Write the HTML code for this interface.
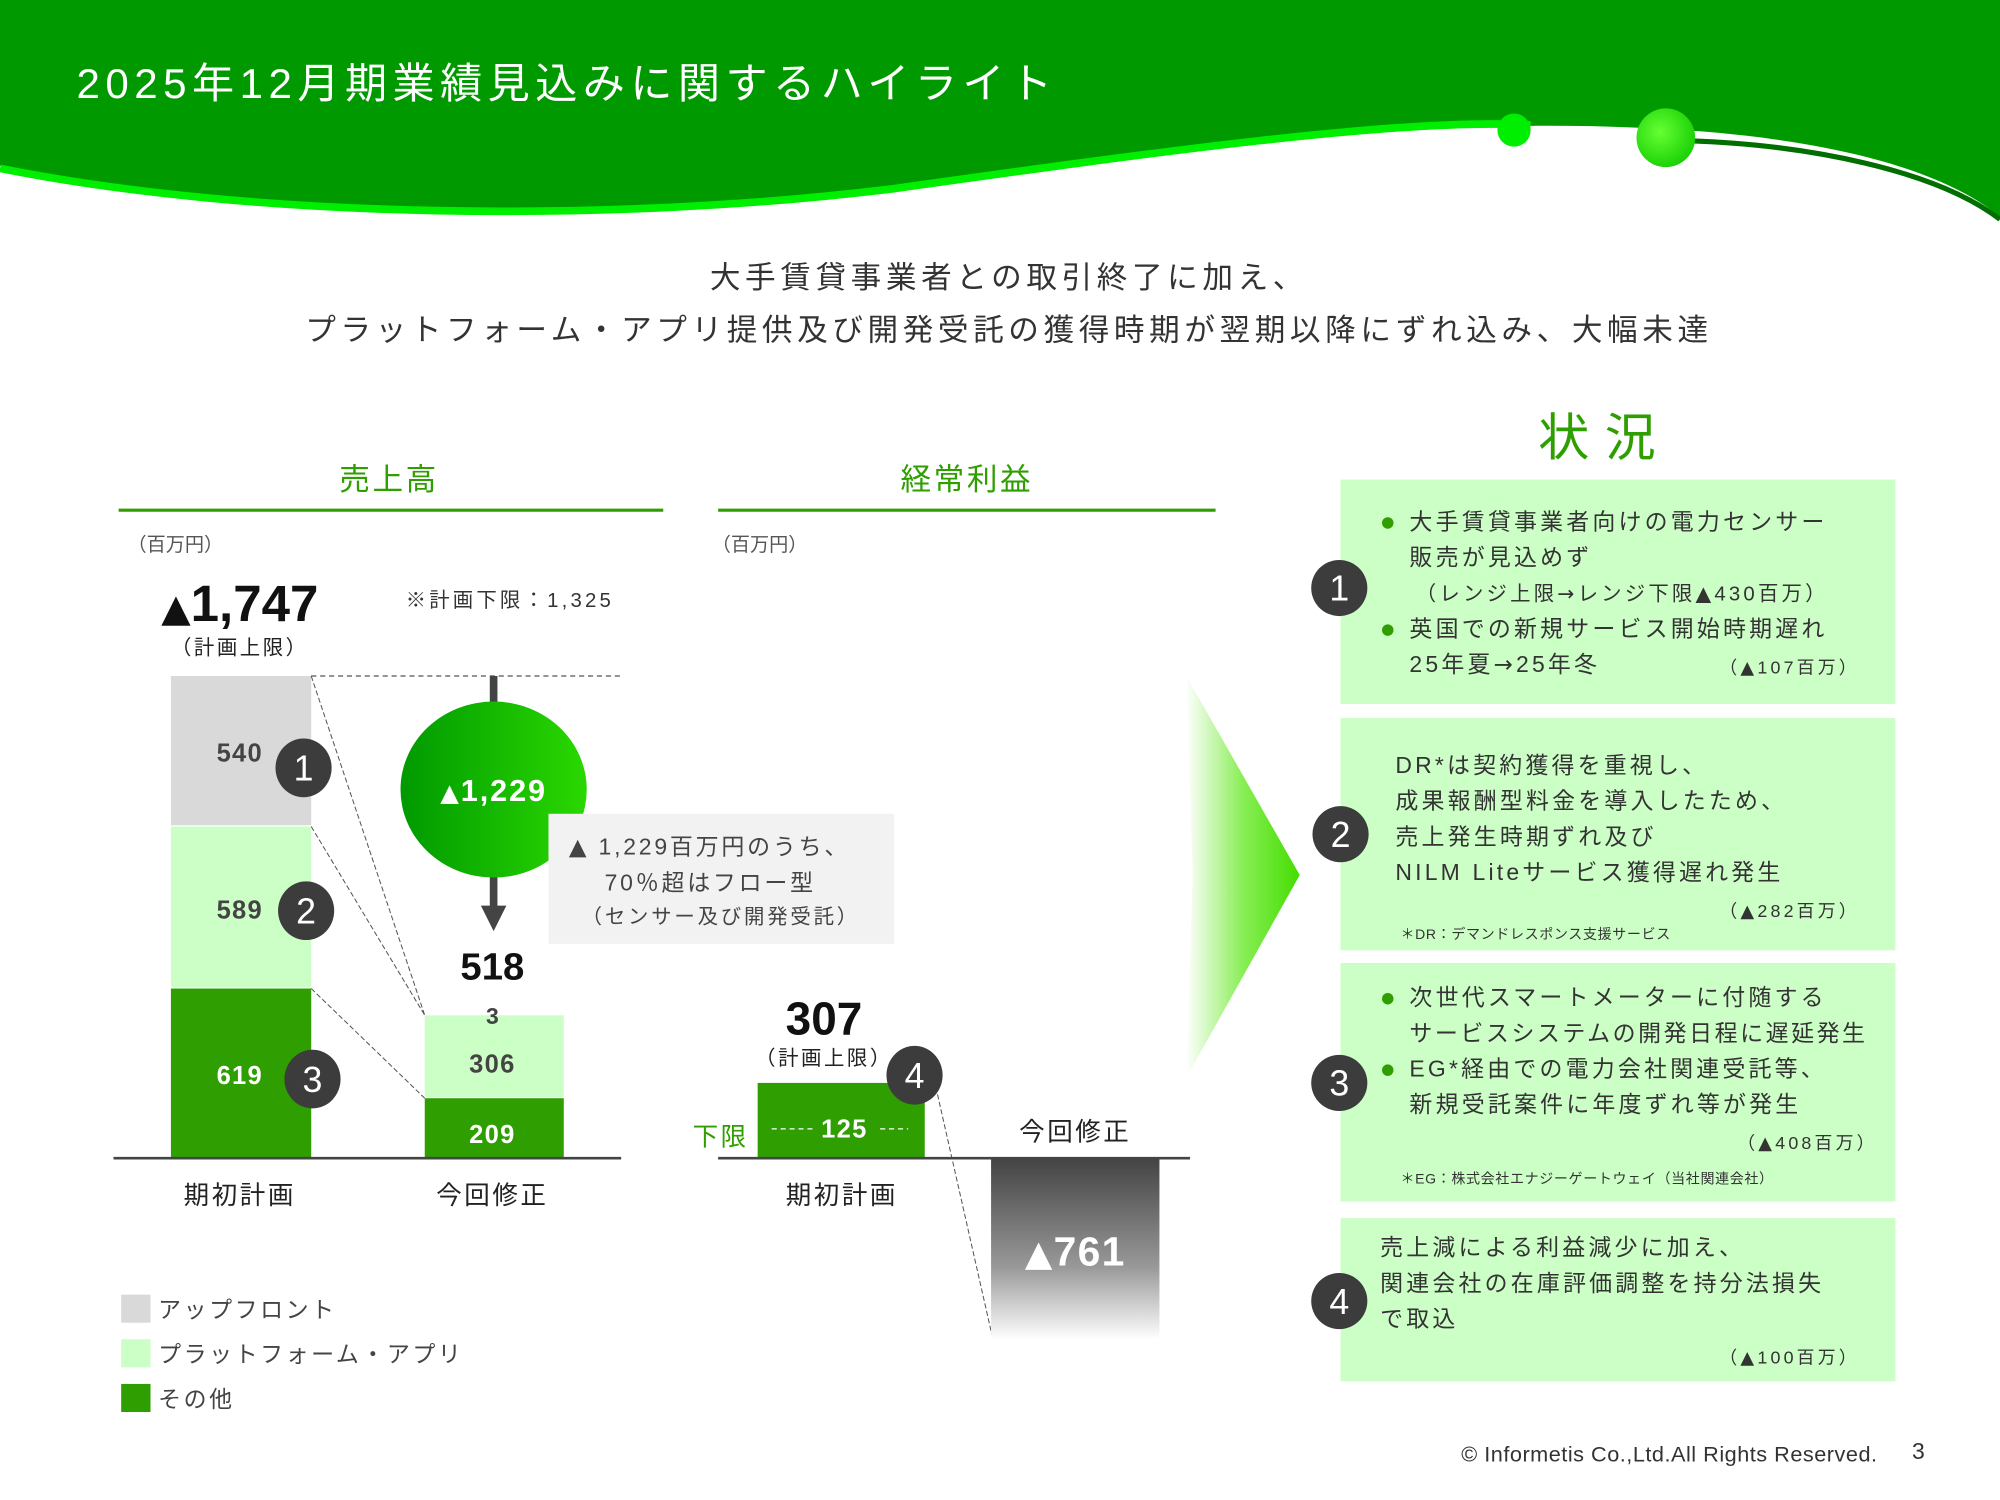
<!DOCTYPE html>
<html><head><meta charset="utf-8"><style>
html,body{margin:0;padding:0;background:#fff;}
svg{display:block;}
text{font-family:"Liberation Sans","Noto Sans CJK JP",sans-serif;}
</style></head><body>
<svg width="2000" height="1500" viewBox="0 0 1568 1176" xmlns="http://www.w3.org/2000/svg">
<defs>
<linearGradient id="cg" x1="0" y1="0" x2="1" y2="0"><stop offset="0" stop-color="#009900"/><stop offset="1" stop-color="#2ad800"/></linearGradient>
<linearGradient id="gg" x1="0" y1="0" x2="0" y2="1"><stop offset="0" stop-color="#444"/><stop offset="0.6" stop-color="#999"/><stop offset="1" stop-color="#fff"/></linearGradient>
<linearGradient id="chev" x1="0" y1="0" x2="1" y2="0"><stop offset="0" stop-color="#fff"/><stop offset="0.5" stop-color="#88ee55"/><stop offset="1" stop-color="#44dd00"/></linearGradient>
<radialGradient id="d1" cx="0.4" cy="0.4" r="0.7"><stop offset="0" stop-color="#66ff33"/><stop offset="1" stop-color="#11cc00"/></radialGradient>
</defs>
<path d="M0,0 H1568 V170 C1520,130 1420,105 1280,100 C1100,92 900,120 700,148 C480,175 200,172 0,130 Z" fill="#009900"/>
<path d="M0,132 C200,172 480,175 700,148 C900,120 1100,92 1200,98" fill="none" stroke="#00ee00" stroke-width="6"/>
<path d="M1310,110 C1420,112 1520,135 1568,172" fill="none" stroke="#006f00" stroke-width="4"/>
<circle cx="1187" cy="102" r="13" fill="#00ee00"/>
<circle cx="1306" cy="108" r="23" fill="url(#d1)"/>
<text x="60" y="77" font-size="33" fill="#fff" letter-spacing="4.3">2025年12月期業績見込みに関するハイライト</text>
<text x="791" y="226" font-size="24" fill="#333" text-anchor="middle" letter-spacing="3.6">大手賃貸事業者との取引終了に加え、</text>
<text x="791" y="267" font-size="24" fill="#333" text-anchor="middle" letter-spacing="3.6">プラットフォーム・アプリ提供及び開発受託の獲得時期が翌期以降にずれ込み、大幅未達</text>
<text x="305" y="384" font-size="24" fill="#2e9e00" text-anchor="middle" letter-spacing="2">売上高</text>
<line x1="93" y1="400" x2="520" y2="400" stroke="#2e9e00" stroke-width="2.5"/>
<text x="758" y="384" font-size="24" fill="#2e9e00" text-anchor="middle" letter-spacing="2">経常利益</text>
<line x1="563" y1="400" x2="953" y2="400" stroke="#2e9e00" stroke-width="2.5"/>
<text x="100" y="432" font-size="15" fill="#555">（百万円）</text>
<text x="558" y="432" font-size="15" fill="#555">（百万円）</text>
<text x="188" y="487" font-size="40" font-weight="bold" fill="#111" text-anchor="middle"><tspan font-family="DejaVu Sans" font-size="30">▲</tspan>1,747</text>
<text x="188" y="513" font-size="16" fill="#222" text-anchor="middle" letter-spacing="2">（計画上限）</text>
<text x="318" y="476" font-size="16" fill="#333" letter-spacing="2.5">※計画下限：1,325</text>
<rect x="134" y="530" width="110" height="117" fill="#d9d9d9"/>
<rect x="134" y="648" width="110" height="126" fill="#ccffc6"/>
<rect x="134" y="775" width="110" height="133" fill="#2e9e00"/>
<rect x="333" y="796" width="109" height="64" fill="#ccffc6"/>
<rect x="333" y="861" width="109" height="47" fill="#2e9e00"/>
<line x1="244" y1="530" x2="487" y2="530" stroke="#555" stroke-dasharray="4,3"/>
<line x1="244" y1="530" x2="333" y2="796" stroke="#555" stroke-width="0.8" stroke-dasharray="4,2"/>
<line x1="244" y1="648" x2="333" y2="796" stroke="#555" stroke-width="0.8" stroke-dasharray="4,2"/>
<line x1="244" y1="775" x2="333" y2="861" stroke="#555" stroke-width="0.8" stroke-dasharray="4,2"/>
<line x1="89" y1="908" x2="487" y2="908" stroke="#444" stroke-width="2"/>
<text x="188" y="597" font-size="20" font-weight="bold" fill="#444" text-anchor="middle" letter-spacing="1">540</text>
<text x="188" y="720" font-size="20" font-weight="bold" fill="#444" text-anchor="middle" letter-spacing="1">589</text>
<text x="188" y="850" font-size="20" font-weight="bold" fill="#fff" text-anchor="middle" letter-spacing="1">619</text>
<g font-size="28" fill="#fff" text-anchor="middle">
<ellipse cx="238" cy="602" rx="22" ry="23" fill="#3c3c3c"/><text x="238" y="612">1</text>
<ellipse cx="240" cy="714" rx="22" ry="23" fill="#3c3c3c"/><text x="240" y="724">2</text>
<ellipse cx="245" cy="846" rx="22" ry="23" fill="#3c3c3c"/><text x="245" y="856">3</text>
</g>
<text x="386" y="803" font-size="18" font-weight="bold" fill="#444" text-anchor="middle">3</text>
<text x="386" y="841" font-size="20" font-weight="bold" fill="#444" text-anchor="middle" letter-spacing="1">306</text>
<text x="386" y="896" font-size="20" font-weight="bold" fill="#fff" text-anchor="middle" letter-spacing="1">209</text>
<line x1="387" y1="530" x2="387" y2="712" stroke="#444" stroke-width="6"/>
<polygon points="377,710 397,710 387,730" fill="#444"/>
<ellipse cx="387" cy="619" rx="73" ry="69" fill="url(#cg)"/>
<text x="387" y="628" font-size="24" font-weight="bold" fill="#fff" text-anchor="middle" letter-spacing="1.5"><tspan font-family="DejaVu Sans" font-size="19">▲</tspan>1,229</text>
<rect x="430" y="638" width="271" height="102" fill="#f2f2f2"/>
<text x="446" y="670" font-size="18" fill="#444" letter-spacing="2.2"><tspan font-family="DejaVu Sans">▲</tspan> 1,229百万円のうち、</text>
<text x="474" y="698" font-size="18" fill="#444" letter-spacing="2.2">70％超はフロー型</text>
<text x="456" y="724" font-size="16" fill="#444" letter-spacing="2.2">（センサー及び開発受託）</text>
<text x="386" y="768" font-size="30" font-weight="bold" fill="#111" text-anchor="middle">518</text>
<text x="188" y="944" font-size="20" fill="#222" text-anchor="middle" letter-spacing="2">期初計画</text>
<text x="386" y="944" font-size="20" fill="#222" text-anchor="middle" letter-spacing="2">今回修正</text>
<rect x="95" y="1015" width="23" height="22" fill="#d9d9d9"/>
<rect x="95" y="1050" width="23" height="22" fill="#ccffc6"/>
<rect x="95" y="1085" width="23" height="22" fill="#2e9e00"/>
<g font-size="18" fill="#444" letter-spacing="2">
<text x="124" y="1033">アップフロント</text>
<text x="124" y="1068">プラットフォーム・アプリ</text>
<text x="124" y="1103">その他</text>
</g>
<text x="646" y="811" font-size="36" font-weight="bold" fill="#111" text-anchor="middle">307</text>
<text x="646" y="835" font-size="16" fill="#222" text-anchor="middle" letter-spacing="2">（計画上限）</text>
<rect x="594" y="849" width="131" height="59" fill="#2e9e00"/>
<line x1="605" y1="885" x2="637" y2="885" stroke="#fff" stroke-dasharray="4,3"/>
<line x1="690" y1="885" x2="712" y2="885" stroke="#fff" stroke-dasharray="4,3"/>
<text x="662" y="892" font-size="20" font-weight="bold" fill="#fff" text-anchor="middle" letter-spacing="1">125</text>
<text x="543" y="898" font-size="20" fill="#2e9e00" letter-spacing="2">下限</text>
<line x1="735" y1="858" x2="778" y2="1048" stroke="#555" stroke-width="0.8" stroke-dasharray="4,2"/>
<rect x="777" y="909" width="132" height="141" fill="url(#gg)"/>
<line x1="563" y1="908" x2="933" y2="908" stroke="#444" stroke-width="2"/>
<ellipse cx="717" cy="843" rx="22" ry="23" fill="#3c3c3c"/><text x="717" y="853" font-size="28" fill="#fff" text-anchor="middle">4</text>
<text x="843" y="992" font-size="32" font-weight="bold" fill="#fff" text-anchor="middle" letter-spacing="1"><tspan font-family="DejaVu Sans" font-size="28">▲</tspan>761</text>
<text x="843" y="894" font-size="20" fill="#222" text-anchor="middle" letter-spacing="2">今回修正</text>
<text x="660" y="944" font-size="20" fill="#222" text-anchor="middle" letter-spacing="2">期初計画</text>
<polygon points="930,530 1019,686 930,845 935,686" fill="url(#chev)"/>
<text x="1258" y="357" font-size="40" fill="#2e9e00" text-anchor="middle" letter-spacing="12">状況</text>
<rect x="1051" y="376" width="435" height="176" fill="#ccffc6"/>
<rect x="1051" y="563" width="435" height="182" fill="#ccffc6"/>
<rect x="1051" y="755" width="435" height="187" fill="#ccffc6"/>
<rect x="1051" y="955" width="435" height="128" fill="#ccffc6"/>
<g font-size="28" fill="#fff" text-anchor="middle">
<circle cx="1050" cy="461" r="22" fill="#3c3c3c"/><text x="1050" y="471">1</text>
<circle cx="1051" cy="654" r="22" fill="#3c3c3c"/><text x="1051" y="664">2</text>
<circle cx="1050" cy="849" r="22" fill="#3c3c3c"/><text x="1050" y="859">3</text>
<circle cx="1050" cy="1020" r="22" fill="#3c3c3c"/><text x="1050" y="1030">4</text>
</g>
<g fill="#2e9e00">
<circle cx="1088" cy="410" r="4.5"/><circle cx="1088" cy="494" r="4.5"/>
<circle cx="1088" cy="783" r="4.5"/><circle cx="1088" cy="839" r="4.5"/>
</g>
<g font-size="18" fill="#333" letter-spacing="2.5">
<text x="1105" y="415">大手賃貸事業者向けの電力センサー</text>
<text x="1105" y="443">販売が見込めず</text>
<text x="1110" y="471" font-size="16">（レンジ上限<tspan font-family="DejaVu Sans">→</tspan>レンジ下限<tspan font-family="DejaVu Sans">▲</tspan>430百万）</text>
<text x="1105" y="499">英国での新規サービス開始時期遅れ</text>
<text x="1105" y="527">25年夏<tspan font-family="DejaVu Sans">→</tspan>25年冬</text>
<text x="1348" y="528" font-size="14">（<tspan font-family="DejaVu Sans">▲</tspan>107百万）</text>
<text x="1094" y="606">DR*は契約獲得を重視し、</text>
<text x="1094" y="634">成果報酬型料金を導入したため、</text>
<text x="1094" y="662">売上発生時期ずれ及び</text>
<text x="1094" y="690">NILM Liteサービス獲得遅れ発生</text>
<text x="1348" y="719" font-size="14">（<tspan font-family="DejaVu Sans">▲</tspan>282百万）</text>
<text x="1098" y="736" font-size="11" letter-spacing="0.5">＊DR：デマンドレスポンス支援サービス</text>
<text x="1105" y="788">次世代スマートメーターに付随する</text>
<text x="1105" y="816" letter-spacing="2">サービスシステムの開発日程に遅延発生</text>
<text x="1105" y="844">EG*経由での電力会社関連受託等、</text>
<text x="1105" y="872">新規受託案件に年度ずれ等が発生</text>
<text x="1362" y="901" font-size="14">（<tspan font-family="DejaVu Sans">▲</tspan>408百万）</text>
<text x="1098" y="928" font-size="11" letter-spacing="0.5">＊EG：株式会社エナジーゲートウェイ（当社関連会社）</text>
<text x="1082" y="984">売上減による利益減少に加え、</text>
<text x="1082" y="1012">関連会社の在庫評価調整を持分法損失</text>
<text x="1082" y="1040">で取込</text>
<text x="1348" y="1069" font-size="14">（<tspan font-family="DejaVu Sans">▲</tspan>100百万）</text>
</g>
<text x="1472" y="1146" font-size="17" fill="#333" text-anchor="end" letter-spacing="0.4">© Informetis Co.,Ltd.All Rights Reserved.</text>
<text x="1504" y="1144" font-size="18" fill="#333" text-anchor="middle">3</text>
</svg>
</body></html>
